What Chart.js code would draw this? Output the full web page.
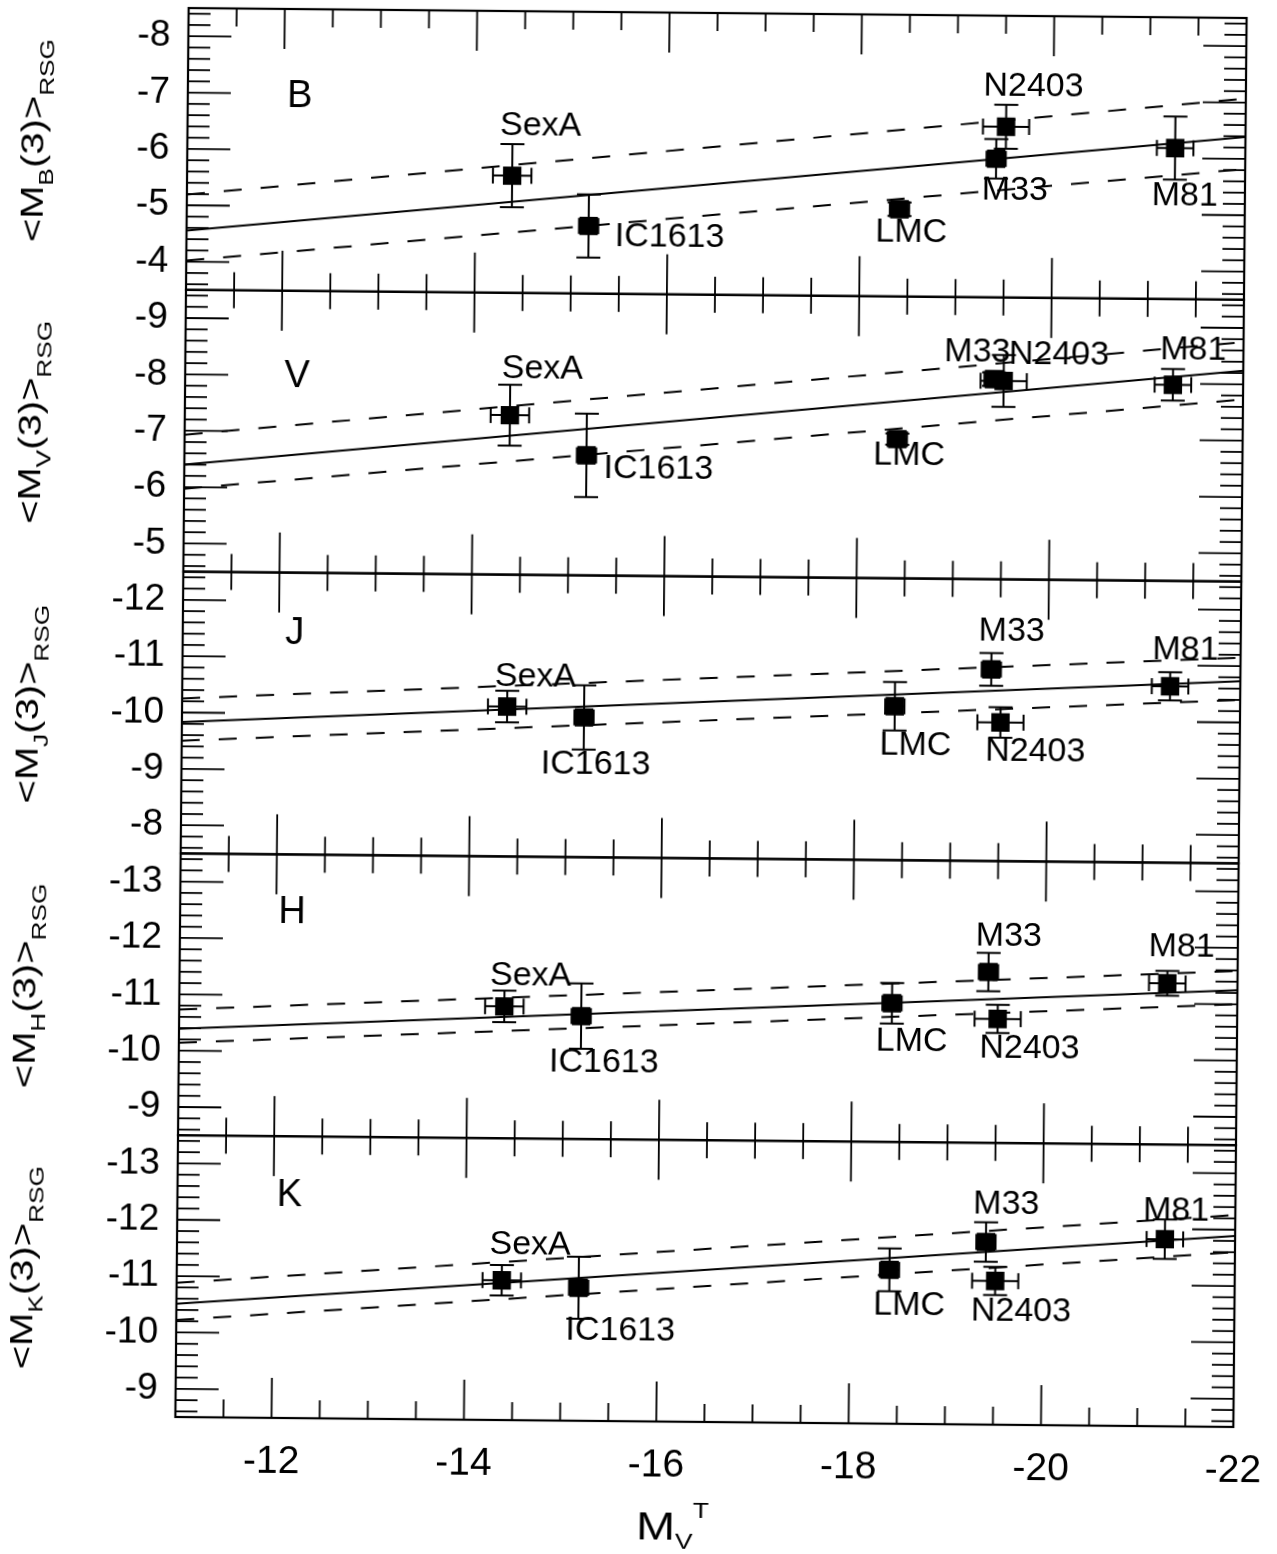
<!DOCTYPE html>
<html>
<head>
<meta charset="utf-8">
<script src="https://cdn.jsdelivr.net/npm/chart.js@4.4.1/dist/chart.umd.min.js"></script>
<style>
  html, body { margin: 0; padding: 0; background: #fff; }
  #wrap { position: absolute; left: 0; top: 0; width: 1277px; height: 1554px;
          transform: rotate(0.54deg); transform-origin: 711px 716px; }
  canvas { display: block; }
</style>
</head>
<body>
<div id="wrap"><canvas id="c" width="1277" height="1554"></canvas></div>
<script>
// ---------------- data ----------------
const galaxies = ['SexA', 'IC1613', 'LMC', 'M33', 'N2403', 'M81'];
const mvTotal    = [-14.38, -15.18, -18.41, -19.41, -19.51, -21.27];
const mvTotalErr = [0.20, 0.10, 0.10, 0.10, 0.24, 0.19];

const bands = ['B', 'V', 'J', 'H', 'K'];

const magB = [-5.58, -4.70, -5.05, -5.96, -6.53, -6.18];
const errB = [0.56, 0.56, 0.12, 0.35, 0.39, 0.56];
const magV = [-7.33, -6.63, -6.97, -8.05, -8.02, -7.98];
const errV = [0.54, 0.74, 0.10, 0.12, 0.46, 0.28];
const magJ = [-10.16, -9.98, -10.23, -10.90, -9.96, -10.63];
const errJ = [0.28, 0.57, 0.43, 0.29, 0.27, 0.25];
const magH = [-10.84, -10.68, -10.96, -11.53, -10.70, -11.36];
const errH = [0.28, 0.58, 0.36, 0.34, 0.25, 0.22];
const magK = [-10.98, -10.86, -11.23, -11.74, -11.05, -11.82];
const errK = [0.27, 0.55, 0.38, 0.35, 0.25, 0.35];

// fit lines: values at the two ends of the x range
const fitX  = [-11, -22];
const fitB  = [-4.55, -6.39], upperB = [-5.19, -7.07], lowerB = [-4.02, -5.82];
const fitV  = [-6.40, -8.24], upperV = [-6.93, -8.75], lowerV = [-5.97, -7.73];
const fitJ  = [-9.83, -10.73], upperJ = [-10.25, -11.15], lowerJ = [-9.50, -10.40];
const fitH  = [-10.39, -11.25], upperH = [-10.73, -11.59], lowerH = [-10.14, -11.00];
const fitK  = [-10.51, -11.89], upperK = [-10.88, -12.26], lowerK = [-10.22, -11.60];

// axis ranges and tick labels
const xRange = [-22, -11];
const xTickValues = [-22, -20, -18, -16, -14, -12];
const yRangeB = [-8.5, -3.5];
const yRangeV = [-9.5, -4.5];
const yRangeJ = [-12.5, -7.5];
const yRangeH = [-13.5, -8.5];
const yRangeK = [-13.5, -8.5];
const yTicksB = [-8, -7, -6, -5, -4];
const yTicksV = [-9, -8, -7, -6, -5];
const yTicksJ = [-12, -11, -10, -9, -8];
const yTicksH = [-13, -12, -11, -10, -9];
const yTicksK = [-13, -12, -11, -10, -9];

// ---------------- layout / style (not data) ----------------
const labelOffsets = {
  B: [[28, -50], [81, 10], [12, 23], [19, 31], [27, -40], [10, 48]],
  V: [[32, -46], [72, 13], [12, 16], [-17, -27], [55, -27], [20, -35]],
  J: [[28, -30], [12, 47], [21, 39], [20, -38], [35, 29], [15, -36]],
  H: [[26, -31], [23, 46], [20, 38], [20, -36], [32, 29], [14, -36]],
  K: [[28, -36], [42, 43], [20, 35], [20, -38], [26, 30], [11, -28]]
};
const letterOffsets = { B: 88, V: 86, J: 61, H: 58, K: 59 };
const FONT = '"Liberation Sans", Arial, Helvetica, sans-serif';

const panels = [
  { band: 'B', mag: magB, err: errB, fit: fitB, up: upperB, lo: lowerB, range: yRangeB, ticks: yTicksB },
  { band: 'V', mag: magV, err: errV, fit: fitV, up: upperV, lo: lowerV, range: yRangeV, ticks: yTicksV },
  { band: 'J', mag: magJ, err: errJ, fit: fitJ, up: upperJ, lo: lowerJ, range: yRangeJ, ticks: yTicksJ },
  { band: 'H', mag: magH, err: errH, fit: fitH, up: upperH, lo: lowerH, range: yRangeH, ticks: yTicksH },
  { band: 'K', mag: magK, err: errK, fit: fitK, up: upperK, lo: lowerK, range: yRangeK, ticks: yTicksK }
];

// ---------------- datasets ----------------
const datasets = [];
panels.forEach(p => {
  const yid = 'y' + p.band;
  const lineDs = (vals, dash) => ({
    type: 'scatter', yAxisID: yid, showLine: true,
    data: fitX.map((x, i) => ({ x: x, y: vals[i] })),
    borderColor: '#000', borderWidth: 2, borderDash: dash,
    pointRadius: 0, fill: false
  });
  datasets.push(lineDs(p.fit, []));
  datasets.push(lineDs(p.up, [18, 19]));
  datasets.push(lineDs(p.lo, [18, 19]));
  datasets.push({
    type: 'scatter', yAxisID: yid,
    data: mvTotal.map((x, i) => ({ x: x, y: p.mag[i] })),
    pointStyle: 'rect', pointRadius: 13, backgroundColor: '#000', borderWidth: 0
  });
});

// ---------------- scales ----------------
const scales = {
  x: {
    type: 'linear', position: 'bottom', min: xRange[0], max: xRange[1], reverse: true,
    grid: { display: false, drawTicks: false }, border: { display: false },
    afterBuildTicks: s => { s.ticks = xTickValues.map(v => ({ value: v })); },
    ticks: { autoSkip: false, maxRotation: 0, color: '#000', padding: 21,
             font: { family: FONT, size: 39 }, callback: v => String(v) },
    afterFit: s => { s.height = 80; s.paddingLeft = 0; s.paddingRight = 0; }
  }
};
// defined bottom-to-top so the last one is stacked at the top
[...panels].reverse().forEach(p => {
  scales['y' + p.band] = {
    type: 'linear', position: 'left', stack: 'bands', stackWeight: 1,
    min: p.range[0], max: p.range[1], reverse: true,
    grid: { display: false, drawTicks: false }, border: { display: false },
    afterBuildTicks: s => { s.ticks = p.ticks.map(v => ({ value: v })); },
    ticks: { autoSkip: false, color: '#000', padding: 18,
             font: { family: FONT, size: 37 }, callback: v => String(v) },
    afterFit: s => { s.width = 120; s.paddingTop = 0; s.paddingBottom = 0; }
  };
});

// ---------------- plugins ----------------
function seg(ctx, x1, y1, x2, y2) { ctx.beginPath(); ctx.moveTo(x1, y1); ctx.lineTo(x2, y2); ctx.stroke(); }

const errorBars = {
  id: 'errorBars',
  beforeDatasetsDraw(chart) {
    const ctx = chart.ctx, xs = chart.scales.x;
    ctx.save();
    ctx.strokeStyle = '#000'; ctx.lineWidth = 2;
    panels.forEach(p => {
      const ys = chart.scales['y' + p.band];
      mvTotal.forEach((xv, i) => {
        const px = xs.getPixelForValue(xv), py = ys.getPixelForValue(p.mag[i]);
        const y1 = ys.getPixelForValue(p.mag[i] - p.err[i]);
        const y2 = ys.getPixelForValue(p.mag[i] + p.err[i]);
        seg(ctx, px, y1, px, y2);
        seg(ctx, px - 12, y1, px + 12, y1);
        seg(ctx, px - 12, y2, px + 12, y2);
        const x1 = xs.getPixelForValue(xv - mvTotalErr[i]);
        const x2 = xs.getPixelForValue(xv + mvTotalErr[i]);
        seg(ctx, x1, py, x2, py);
        seg(ctx, x1, py - 8, x1, py + 8);
        seg(ctx, x2, py - 8, x2, py + 8);
      });
    });
    ctx.restore();
  }
};

const frame = {
  id: 'frame',
  afterDatasetsDraw(chart) {
    const ctx = chart.ctx, a = chart.chartArea, xs = chart.scales.x;
    ctx.save();
    ctx.strokeStyle = '#000';
    panels.forEach(p => {
      const ys = chart.scales['y' + p.band];
      const top = ys.top, bot = ys.bottom;
      ctx.lineWidth = 1.8;
      for (let k = Math.ceil(xRange[0] / 0.5); k * 0.5 <= xRange[1]; k++) {
        const v = k * 0.5;
        if (v <= xRange[0] || v >= xRange[1]) continue;
        const px = xs.getPixelForValue(v);
        const L = (Math.abs(v % 2) < 1e-9) ? 40 : 18;
        seg(ctx, px, bot, px, bot - L);
        seg(ctx, px, top, px, top + L);
      }
      const lo = p.range[0], hi = p.range[1];
      for (let k = Math.ceil(lo / 0.2 - 1e-6); k * 0.2 <= hi + 1e-6; k++) {
        const v = Math.round(k * 0.2 * 10) / 10;
        if (v <= lo || v >= hi) continue;
        const py = ys.getPixelForValue(v);
        const L = (Math.abs(v - Math.round(v)) < 1e-6) ? 43 : 22;
        seg(ctx, a.left, py, a.left + L, py);
        seg(ctx, a.right, py, a.right - L, py);
      }
      ctx.lineWidth = 2.2;
      ctx.strokeRect(a.left, top, a.right - a.left, bot - top);
    });
    ctx.restore();
  }
};

function drawStretched(ctx, parts, x, y, rot, stretch) {
  // parts: [text, size, baselineShift]
  ctx.save();
  ctx.translate(x, y);
  ctx.rotate(rot);
  ctx.scale(stretch, 1);
  let total = 0;
  parts.forEach(pt => { ctx.font = pt[1] + 'px ' + FONT; total += ctx.measureText(pt[0]).width; });
  let cx = -total / 2;
  ctx.textAlign = 'left'; ctx.textBaseline = 'alphabetic';
  parts.forEach(pt => {
    ctx.font = pt[1] + 'px ' + FONT;
    ctx.fillText(pt[0], cx, pt[2]);
    cx += ctx.measureText(pt[0]).width;
  });
  ctx.restore();
}

const texts = {
  id: 'texts',
  afterDraw(chart) {
    const ctx = chart.ctx, a = chart.chartArea, xs = chart.scales.x;
    ctx.save();
    ctx.fillStyle = '#000';
    panels.forEach(p => {
      const ys = chart.scales['y' + p.band];
      ctx.font = '34px ' + FONT;
      ctx.textAlign = 'center'; ctx.textBaseline = 'middle';
      galaxies.forEach((g, i) => {
        const off = labelOffsets[p.band][i];
        ctx.fillText(g, xs.getPixelForValue(mvTotal[i]) + off[0], ys.getPixelForValue(p.mag[i]) + off[1]);
      });
      ctx.font = '38px ' + FONT;
      ctx.fillText(p.band, a.left + 112, ys.top + letterOffsets[p.band]);
      const cy = (ys.top + ys.bottom) / 2 - 7;
      drawStretched(ctx, [['<M', 32, 0], [p.band, 21, 10], ['(3)>', 32, 0], ['RSG', 21, 10]],
                    38, cy, -Math.PI / 2, 1.25);
    });
    drawStretched(ctx, [['M', 39, 0], ['V', 22, 9], ['T', 22, -22]], 680, 1540, 0, 1.2);
    ctx.restore();
  }
};

new Chart(document.getElementById('c'), {
  type: 'scatter',
  data: { datasets: datasets },
  options: {
    responsive: false, animation: false,
    layout: { padding: { left: 62, right: 37, top: 11, bottom: 52 } },
    plugins: { legend: { display: false }, tooltip: { enabled: false }, title: { display: false } },
    scales: scales
  },
  plugins: [errorBars, frame, texts]
});
</script>
</body>
</html>
